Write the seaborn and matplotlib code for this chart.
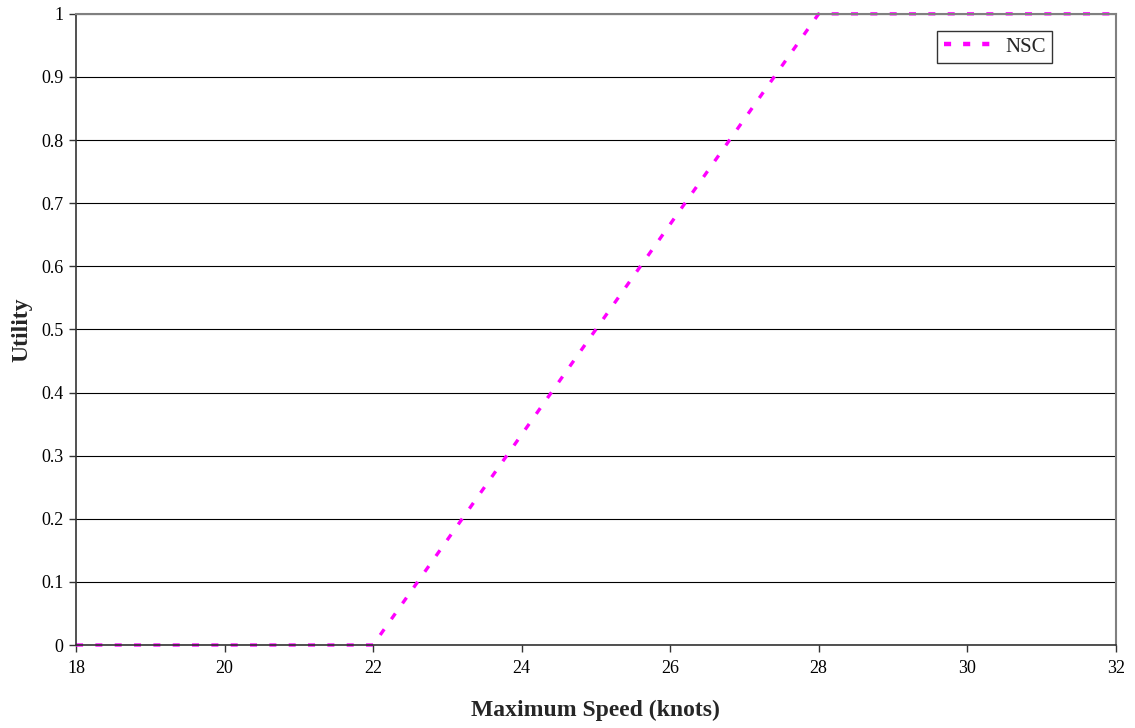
import matplotlib
matplotlib.use("Agg")
import matplotlib.pyplot as plt
import seaborn as sns
import pandas as pd

# Utility curve for maximum speed
speed_knots = [18, 22, 28, 32]
utility = [0, 0, 1, 1]
series_name = "NSC"

x_ticks = [18, 20, 22, 24, 26, 28, 30, 32]
y_ticks = [0, 0.1, 0.2, 0.3, 0.4, 0.5, 0.6, 0.7, 0.8, 0.9, 1]
y_tick_labels = ["0", "0.1", "0.2", "0.3", "0.4", "0.5", "0.6", "0.7", "0.8", "0.9", "1"]

sns.set_theme(style="white")
plt.rcParams["font.family"] = ["Liberation Serif", "DejaVu Serif"]

df = pd.DataFrame({"speed": speed_knots, "utility": utility, "series": series_name})

fig = plt.figure(figsize=(11.35, 7.28), dpi=100)
ax = fig.add_axes([0.067, 0.114, 0.916, 0.867])

sns.lineplot(data=df, x="speed", y="utility", hue="series", palette=["#FF00FF"],
             ax=ax, linewidth=2.4, legend=True)
for line in ax.get_lines():
    line.set_dashes((2.1, 3.7))
    line.set_clip_on(False)

ax.set_xlim(18, 32)
ax.set_ylim(0, 1)
ax.set_xticks(x_ticks)
ax.set_xticklabels([str(t) for t in x_ticks])
ax.set_yticks(y_ticks)
ax.set_yticklabels(y_tick_labels)

ax.yaxis.grid(True, color="black", linewidth=0.8)
ax.xaxis.grid(False)
ax.set_axisbelow(True)

for side in ["left", "bottom"]:
    ax.spines[side].set_color("#333333")
    ax.spines[side].set_linewidth(1.2)
for side in ["top", "right"]:
    ax.spines[side].set_color("#808080")
    ax.spines[side].set_linewidth(1.5)

ax.tick_params(axis="both", which="major", direction="out", length=5, width=1,
               color="#333333", labelsize=13, labelcolor="black",
               bottom=True, left=True)
ax.tick_params(axis="x", pad=6)
ax.tick_params(axis="y", pad=4)

ax.set_xlabel("Maximum Speed (knots)", fontsize=17, fontweight="bold", labelpad=16)
ax.set_ylabel("Utility", fontsize=17, fontweight="bold", labelpad=6)

leg = ax.legend(loc="upper right", bbox_to_anchor=(0.9385, 0.973), frameon=True,
                fancybox=False, shadow=False, fontsize=15, handlelength=2.3,
                borderpad=0.3, handletextpad=0.65, borderaxespad=0)
leg.get_frame().set_edgecolor("black")
leg.get_frame().set_linewidth(1.0)
for h in leg.get_lines():
    h.set_linewidth(3.2)
    h.set_dashes((1.6, 2.7))

fig.savefig("out.png", dpi=100, facecolor="white")
